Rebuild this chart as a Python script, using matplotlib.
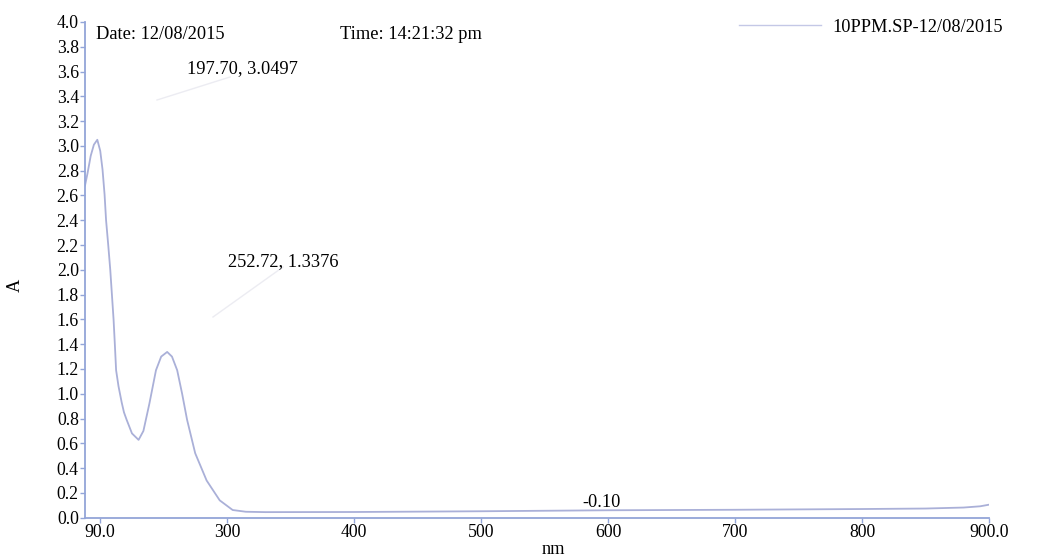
import matplotlib
matplotlib.use("Agg")
import matplotlib.pyplot as plt
import numpy as np

# spectrum (nm, absorbance)
wavelength = [188, 190, 192.5, 195, 197.7, 200, 201.8, 203.4, 204.6, 206.3,
              207.9, 209.2, 210.5, 211.5, 212.5, 214.4, 216.9, 218.7, 220.8, 225,
              230.2, 234, 238.7, 243.9, 248, 252.72, 256.5, 260.6, 264.5, 268.4,
              274.8, 283.8, 294.1, 304.3, 314.7, 330, 400, 500, 600, 700,
              800, 850, 880, 893, 900]
absorbance = [2.68, 2.78, 2.92, 3.01, 3.0497, 2.96, 2.81, 2.61, 2.40, 2.20,
              2.00, 1.80, 1.60, 1.40, 1.19, 1.06, 0.93, 0.85, 0.79, 0.68,
              0.628, 0.70, 0.92, 1.19, 1.30, 1.3376, 1.30, 1.19, 1.00, 0.79,
              0.52, 0.30, 0.14, 0.062, 0.048, 0.045, 0.046, 0.052, 0.060, 0.064,
              0.070, 0.074, 0.082, 0.092, 0.105]

x_ticks = [200, 300, 400, 500, 600, 700, 800, 900]
x_tick_labels = ["90.0", "300", "400", "500", "600", "700", "800", "900.0"]
y_ticks = [round(0.2 * i, 1) for i in range(21)]

series_name = "10PPM.SP-12/08/2015"
date_text = "Date: 12/08/2015"
time_text = "Time: 14:21:32 pm"
peak_labels = ["197.70, 3.0497", "252.72, 1.3376", "-0.10"]

plt.rcParams["font.family"] = ["Liberation Serif", "DejaVu Serif"]
fs = 13.2
axis_col = "#93a5d8"
line_col = "#aab0d8"

fig = plt.figure(figsize=(10.39, 5.59), dpi=100)
ax = fig.add_axes([85 / 1039, 41.3 / 559, 904 / 1039, 495.7 / 559])

ax.plot(wavelength, absorbance, color=line_col, lw=1.3, label=series_name)

ax.set_xlim(188, 900)
ax.set_ylim(0, 4.0)
ax.set_xticks(x_ticks)
ax.set_xticklabels(x_tick_labels)
ax.set_yticks(y_ticks)
ax.set_yticklabels([f"{v:.1f}" for v in y_ticks])

for side in ["top", "right"]:
    ax.spines[side].set_visible(False)
for side in ["left", "bottom"]:
    ax.spines[side].set_color(axis_col)
    ax.spines[side].set_linewidth(1.3)
ax.tick_params(axis="both", colors=axis_col, labelcolor="black",
               labelsize=12.8, length=3.5, width=1, direction="out", pad=1)

# axis titles
ax.text((553 - 85) / 904, (517.7 - 549) / 495.7, "nm", transform=ax.transAxes,
        fontsize=fs, ha="center", va="center")
ax.text((15 - 85) / 904, (517.7 - 285) / 495.7, "A", transform=ax.transAxes,
        fontsize=fs, ha="center", va="center", rotation=90)

ax.text(0.0122, 0.975, date_text, transform=ax.transAxes, fontsize=fs, va="center")
ax.text(0.282, 0.975, time_text, transform=ax.transAxes, fontsize=fs, va="center")

# peak labels with their faint leader lines
ax.text(0.1128, 0.907, peak_labels[0], transform=ax.transAxes, fontsize=fs, va="center")
ax.plot([(157 - 85) / 904, (230 - 85) / 904],
        [(517.7 - 100) / 495.7, (517.7 - 77) / 495.7],
        transform=ax.transAxes, color="#ececf2", lw=1)
ax.text(0.158, 0.5158, peak_labels[1], transform=ax.transAxes, fontsize=fs, va="center")
ax.plot([(213 - 85) / 904, (283 - 85) / 904],
        [(517.7 - 317) / 495.7, (517.7 - 267) / 495.7],
        transform=ax.transAxes, color="#ececf2", lw=1)
ax.text(0.5498, 0.0297, peak_labels[2], transform=ax.transAxes, fontsize=fs, va="center")

leg = ax.legend(loc="center right", bbox_to_anchor=((1003 - 85) / 904, (517.7 - 27) / 495.7),
                frameon=False, fontsize=fs, handlelength=4.5, handletextpad=0.6,
                borderpad=0, borderaxespad=0)
for h in leg.get_lines():
    h.set_color("#c4c8e6")
    h.set_linewidth(1)

fig.savefig("out.png", dpi=100)
